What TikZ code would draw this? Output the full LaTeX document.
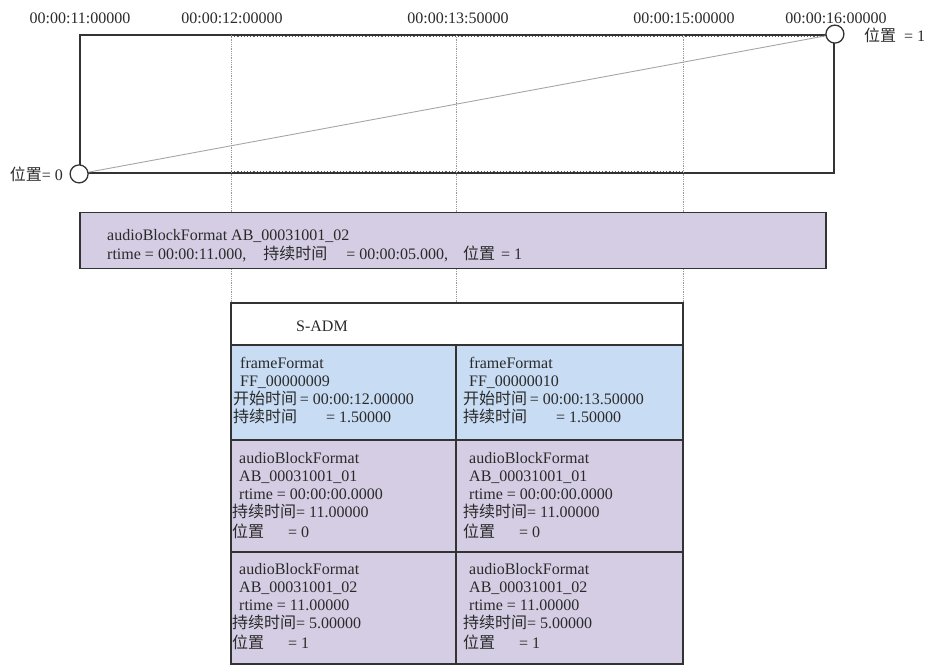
\documentclass[tikz,border=0pt]{standalone}
\usepackage{fontspec}
\setmainfont{Liberation Serif}
\newfontfamily\cjk{Noto Sans CJK SC}
\definecolor{lav}{HTML}{D4CDE3}
\definecolor{ffblue}{HTML}{C8DCF3}
\definecolor{edge}{HTML}{333333}
\definecolor{txtc}{HTML}{2A2A2A}
\begin{document}
\begin{tikzpicture}[x=1pt,y=-1pt,
  cellbox/.style={draw=edge,line width=1.3pt,inner sep=0pt,minimum width=#1},
  lbl/.style={font=\fontsize{16}{18}\selectfont,inner sep=0pt,text=txtc},
  celltxt/.style={font=\fontsize{16}{18}\selectfont,inner sep=0pt,anchor=north west,align=left,text=txtc},
  tmark/.style={draw=gray!80,densely dotted,line width=0.8pt},
  hatch/.style={draw=edge!80,dotted,line width=1.2pt},
  ring/.style={circle,draw=edge,line width=1.3pt,fill=white,minimum size=18pt,inner sep=0pt}]
\useasboundingbox (0,0) rectangle (928,664);
% timeline box
\node[cellbox=754,minimum height=138,line width=1.8pt] (tl) at (457,104) {};
\coordinate (d1) at (231,35);
\coordinate (d2) at (456,35);
\coordinate (d3) at (683,35);
\coordinate (e1) at (231,303);
\coordinate (e2) at (456,303);
\coordinate (e3) at (683,303);
\coordinate (h1) at (231,36.3);
\coordinate (h2) at (824,36.3);
\coordinate (h3) at (231,171.7);
\coordinate (h4) at (683,171.7);
\draw[tmark] (d1) -- (e1);
\draw[tmark] (d2) -- (e2);
\draw[tmark] (d3) -- (e3);
\draw[hatch] (h1) -- (h2);
\draw[hatch] (h3) -- (h4);
\node[ring] (c0) at (tl.south west) {};
\node[ring] (c1) at (tl.north east) {};
\draw[gray!70,line width=0.9pt] (c0) -- (c1);
% time labels
\node[lbl] (t1) at (80,18) {00:00:11:00000};
\node[lbl] (t2) at (232,18) {00:00:12:00000};
\node[lbl] (t3) at (458,18) {00:00:13:50000};
\node[lbl] (t4) at (684,18) {00:00:15:00000};
\node[lbl] (t5) at (836,18) {00:00:16:00000};
\node[lbl,anchor=west] (p1) at (864,35) {{\cjk 位置}\hspace{8pt}= 1};
\node[lbl,anchor=east] (p0) at (63,174) {{\cjk 位置}= 0};
% audioBlockFormat bar
\node[cellbox=746,minimum height=56,fill=lav] (abf) at (453,240.5) {};
\node[celltxt,font=\fontsize{16}{19}\selectfont] (abft) at (107,229) {audioBlockFormat AB\_00031001\_02\\
rtime = 00:00:11.000,\hspace{17pt}{\cjk 持续时间}\hspace{19pt}= 00:00:05.000,\hspace{15pt}{\cjk 位置}\hspace{6pt}= 1};
% S-ADM table
\node[cellbox=452,minimum height=42,fill=white] (hdr) at (457,324) {};
\node[lbl,anchor=west] (hdrt) at (296,326) {S-ADM};
\node[cellbox=225,minimum height=95,fill=ffblue] (f1) at (343.5,392.5) {};
\node[cellbox=227,minimum height=95,fill=ffblue] (f2) at (569.5,392.5) {};
\node[cellbox=225,minimum height=112,fill=lav] (a1) at (343.5,496) {};
\node[cellbox=227,minimum height=112,fill=lav] (a2) at (569.5,496) {};
\node[cellbox=225,minimum height=112,fill=lav] (b1) at (343.5,608) {};
\node[cellbox=227,minimum height=112,fill=lav] (b2) at (569.5,608) {};
\node[celltxt] (f1t) at (233,357) {\hspace*{7pt}frameFormat\\\hspace*{7pt}FF\_00000009\\{\cjk 开始时间}\,= 00:00:12.00000\\{\cjk 持续时间}\hspace{29pt}= 1.50000};
\node[celltxt] (f2t) at (463,357) {\hspace*{6pt}frameFormat\\\hspace*{6pt}FF\_00000010\\{\cjk 开始时间}\,= 00:00:13.50000\\{\cjk 持续时间}\hspace{29pt}= 1.50000};
\node[celltxt] (a1t) at (232,452) {\hspace*{7pt}audioBlockFormat\\\hspace*{7pt}AB\_00031001\_01\\\hspace*{7pt}rtime = 00:00:00.0000\\{\cjk 持续时间}= 11.00000\\[2pt]{\cjk 位置}\hspace{24pt}= 0};
\node[celltxt] (a2t) at (463,452) {\hspace*{6pt}audioBlockFormat\\\hspace*{6pt}AB\_00031001\_01\\\hspace*{6pt}rtime = 00:00:00.0000\\{\cjk 持续时间}= 11.00000\\[2pt]{\cjk 位置}\hspace{24pt}= 0};
\node[celltxt] (b1t) at (232,563) {\hspace*{7pt}audioBlockFormat\\\hspace*{7pt}AB\_00031001\_02\\\hspace*{7pt}rtime = 11.00000\\{\cjk 持续时间}= 5.00000\\[2pt]{\cjk 位置}\hspace{24pt}= 1};
\node[celltxt] (b2t) at (463,563) {\hspace*{6pt}audioBlockFormat\\\hspace*{6pt}AB\_00031001\_02\\\hspace*{6pt}rtime = 11.00000\\{\cjk 持续时间}= 5.00000\\[2pt]{\cjk 位置}\hspace{24pt}= 1};
\end{tikzpicture}
\end{document}
